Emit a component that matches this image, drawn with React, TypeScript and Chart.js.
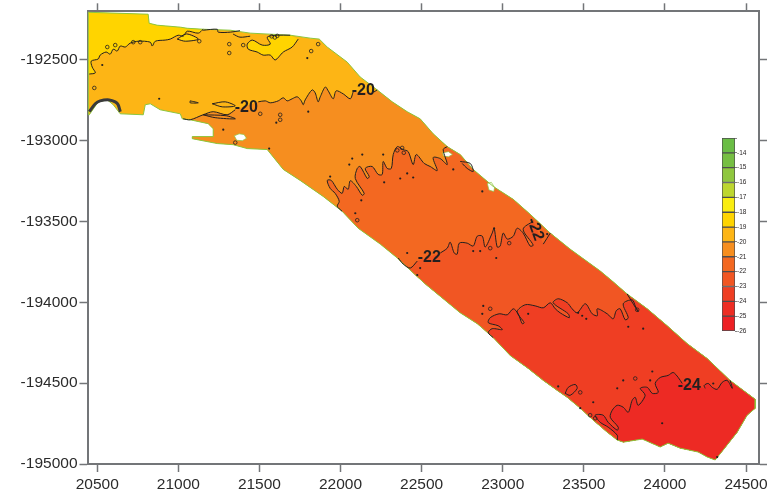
import React, { useEffect, useRef } from "react";
import { Chart, registerables } from "chart.js";

Chart.register(...registerables);

type P = number[];

const xTickValues = [20500, 21000, 21500, 22000, 22500, 23000, 23500, 24000, 24500];
const yTickValues = [-195000, -194500, -194000, -193500, -193000, -192500];

// survey area: clockwise ring of (easting, northing)
const upperEdge: P[] = [
  [20445,-192206],[20814,-192218],[20820,-192274],[20870,-192286],[21012,-192298],[21055,-192305],[21153,-192311],
  [21320,-192317],[21443,-192335],[21690,-192348],[21813,-192366],[21869,-192372],[21918,-192421],[22041,-192514],
  [22121,-192606],[22226,-192686],[22319,-192760],[22411,-192821],[22491,-192865],[22571,-192957],[22658,-193037],
  [22738,-193086],[22818,-193178],[22941,-193283],[23065,-193363],[23169,-193455],[23293,-193572],[23416,-193671],
  [23601,-193806],[23675,-193868],[23767,-193948],[23891,-194040],[24014,-194145],[24137,-194255],[24261,-194348],
  [24402,-194483],[24557,-194600],
];
const endCap: P[] = [
  [24557,-194655],[24507,-194698],[24446,-194803],[24359,-194914],[24310,-194975],[24261,-194957],[24205,-194926],
  [24094,-194902],[24020,-194871],[23971,-194895],[23860,-194846],[23743,-194865],[23706,-194852],
];
const lowerEdge: P[] = [
  [23644,-194803],[23558,-194729],[23478,-194655],[23398,-194588],[23336,-194545],[23250,-194483],[23157,-194409],
  [23046,-194329],[22941,-194218],[22843,-194132],[22738,-194065],[22633,-193978],[22522,-193886],[22448,-193818],
  [22350,-193726],[22245,-193640],[22109,-193542],[22010,-193437],[21893,-193345],[21751,-193246],[21647,-193178],
  [21548,-193055],[21425,-193049],[21338,-193025],[21240,-193018],[21086,-192988],[21086,-192975],[21215,-192975],
  [21215,-192926],[21184,-192895],[21073,-192871],[21024,-192865],[21012,-192834],[20888,-192809],[20827,-192772],
  [20796,-192778],[20784,-192840],[20642,-192834],[20599,-192778],[20562,-192748],[20506,-192760],[20451,-192840],
  [20445,-192840],
];
const holes: P[][] = [
  [[21345,-192970],[21375,-192958],[21405,-192962],[21420,-192985],[21395,-193000],[21360,-192998]],
  [[22630,-193075],[22665,-193068],[22690,-193085],[22665,-193100],[22635,-193095]],
  [[22905,-193265],[22930,-193258],[22950,-193290],[22945,-193315],[22915,-193305]],
];

// -19 contour and the yellow patches above it
const contour19: P[] = [
  [20451,-192588],[20488,-192581],[20469,-192545],[20463,-192508],[20506,-192495],[20518,-192471],[20555,-192452],
  [20580,-192465],[20599,-192434],[20623,-192446],[20642,-192415],[20673,-192421],[20703,-192397],[20753,-192385],
  [20827,-192391],[20839,-192415],[20858,-192385],[20919,-192378],[20950,-192372],[20999,-192348],[21030,-192354],
  [21055,-192323],[21123,-192335],[21153,-192311],
];
const patch19: P[] = [
  [21739,-192372],[21702,-192421],[21647,-192452],[21597,-192501],[21567,-192471],[21523,-192471],[21486,-192452],
  [21431,-192434],[21425,-192403],[21456,-192378],[21517,-192409],[21567,-192403],[21548,-192360],[21610,-192348],
  [21690,-192348],
];
const ribbon19: P[] = [
  [20993,-192372],[21050,-192340],[21123,-192372],[21043,-192385],[20993,-192372],
];
const ripple19a: P[] = [[21153,-192317],[21240,-192311],[21246,-192329],[21320,-192329],[21380,-192320]];
const ripple19b: P[] = [[21338,-192341],[21380,-192360],[21443,-192354]];

const contour20a: P[] = [
  [21030,-192865],[21073,-192871],[21153,-192840],[21215,-192821],[21301,-192840],[21351,-192809],
];
const contour20b: P[] = [
  [21493,-192760],[21536,-192754],[21567,-192766],[21616,-192754],[21647,-192735],[21671,-192754],[21702,-192741],
  [21733,-192729],[21758,-192754],[21770,-192778],[21782,-192748],[21825,-192686],[21844,-192705],[21862,-192760],
  [21875,-192729],[21906,-192668],[21924,-192692],[21955,-192741],[21973,-192692],[22017,-192711],[22060,-192741],
  [22078,-192698],
];
const contour20c: P[] = [[22205,-192700],[22226,-192686]];

const contour21: P[] = [
  [22010,-193437],[21980,-193406],[21992,-193375],[21967,-193326],[21936,-193295],[21918,-193246],[21943,-193246],
  [21980,-193301],[22010,-193326],[22023,-193283],[22047,-193301],[22060,-193248],[22097,-193283],[22134,-193338],
  [22146,-193326],[22091,-193234],[22103,-193172],[22121,-193160],[22165,-193234],[22177,-193222],[22152,-193172],
  [22195,-193160],[22232,-193209],[22257,-193209],[22263,-193129],[22288,-193172],[22313,-193172],[22325,-193086],
  [22350,-193037],[22386,-193055],[22417,-193068],[22448,-193148],[22467,-193086],[22516,-193141],[22553,-193160],
  [22596,-193185],[22571,-193105],[22615,-193111],[22658,-193148],[22633,-193055],[22658,-193037],
];
const fringe21: P[] = [[22738,-193129],[22800,-193141],[22818,-193191],[22781,-193172],[22750,-193141]];

const contour22a: P[] = [[22356,-193726],[22386,-193763],[22430,-193788],[22473,-193745]];
const contour22b: P[] = [
  [22615,-193695],[22658,-193665],[22676,-193628],[22701,-193695],[22719,-193702],[22732,-193634],[22781,-193634],
  [22818,-193652],[22843,-193591],[22874,-193591],[22892,-193658],[22935,-193572],[22947,-193542],[22966,-193658],
  [22984,-193652],[23003,-193572],[23028,-193609],[23065,-193591],[23089,-193542],[23126,-193572],[23169,-193652],
  [23188,-193646],[23126,-193548],[23188,-193498],
];
const contour22c: P[] = [[23250,-193640],[23293,-193572]];

const contour23: P[] = [
  [22941,-194218],[22911,-194188],[22935,-194163],[22997,-194169],[22972,-194145],[22911,-194126],[22923,-194095],
  [22978,-194071],[23028,-194077],[23065,-194040],[23095,-194071],[23120,-194132],[23132,-194126],[23089,-194058],
  [23139,-194015],[23200,-194022],[23250,-194034],[23293,-194003],[23324,-194040],[23354,-194065],[23410,-194095],
  [23404,-194071],[23311,-194003],[23342,-193978],[23398,-194003],[23428,-194040],[23459,-194065],[23509,-194009],
  [23552,-194071],[23583,-194083],[23583,-194040],[23644,-194071],[23681,-194102],[23700,-194052],[23724,-194040],
  [23755,-194108],[23774,-194095],[23743,-194009],[23798,-193985],[23817,-194022],[23835,-194058],[23804,-194009],
  [23767,-193948],
];

const contour24a: P[] = [
  [23706,-194852],[23706,-194822],[23650,-194772],[23601,-194742],[23570,-194698],[23619,-194698],[23650,-194742],
  [23706,-194791],[23712,-194772],[23663,-194711],[23675,-194668],[23706,-194637],[23743,-194649],[23774,-194680],
  [23798,-194606],[23817,-194588],[23835,-194637],[23878,-194575],[23848,-194532],[23891,-194526],[23922,-194563],
  [23959,-194557],[23940,-194502],[23971,-194465],[24020,-194452],[24051,-194434],[24082,-194465],[24107,-194502],
];
const contour24b: P[] = [
  [24248,-194532],[24242,-194514],[24267,-194502],[24292,-194526],[24322,-194538],[24353,-194495],[24384,-194483],
  [24415,-194532],[24402,-194483],
];

const closedLoops: P[][] = [
  [[21073,-192754],[21123,-192766],[21073,-192766],[21073,-192754]],
  [[21209,-192772],[21289,-192760],[21351,-192785],[21271,-192791],[21209,-192772]],
  [[21153,-192840],[21227,-192858],[21351,-192865],[21295,-192846],[21153,-192840]],
  [[23385,-194563],[23404,-194526],[23447,-194508],[23459,-194532],[23416,-194575],[23385,-194563]],
];
const bayContour: P[] = [
  [20451,-192821],[20488,-192772],[20518,-192754],[20574,-192748],[20611,-192760],[20629,-192778],[20642,-192821],
];

const smallRings: P[] = [
  [20482,-192674],[20562,-192421],[20611,-192409],[20722,-192391],[20765,-192391],[21129,-192385],[21314,-192403],
  [21314,-192458],[21400,-192409],[21862,-192403],[21819,-192446],[21505,-192834],[21628,-192840],[21628,-192871],
  [22103,-193492],[22923,-193665],[23040,-193634],[22923,-194040],[23829,-194046],[23817,-194471],[21351,-193012],
  [23539,-194698],[23570,-194717],[23478,-194557],[22350,-193060],[22380,-193045],[22390,-193075],
  [21575,-192355],[21595,-192362],[21610,-192352],
];
const smallDots: P[] = [
  [21795,-192489],[20882,-192741],[20531,-192532],[21801,-192821],[21604,-192889],[21277,-192932],[21560,-193049],
  [22072,-193111],[22134,-193086],[22263,-193086],[21936,-193222],[22054,-193148],[22411,-193203],[22448,-193228],
  [22269,-193258],[22368,-193234],[22128,-193369],[22091,-193449],[22473,-193831],[22874,-193314],[22695,-193178],
  [22411,-193695],[22491,-193788],[22818,-193683],[22861,-193683],[22960,-193726],[22947,-193542],[23274,-193578],
  [22880,-194022],[22874,-194071],[23157,-194071],[23465,-194065],[23490,-194083],[23515,-194102],[23774,-194151],
  [23866,-194163],[23342,-194520],[23558,-194618],[23478,-194655],[23706,-194532],[23743,-194483],[23922,-194428],
  [23909,-194483],[23983,-194748],[24322,-194957],[24298,-194502],
];

const contourLabels = ["-20", "-20", "-22", "-22", "-24"];
const labelX = [21419, 22140, 22547, 23200, 24150];
const labelY = [-192797, -192692, -193726, -193548, -194514];
const labelAngle = [0, 0, 0, 70, 0];

const legendLevels = [-13, -14, -15, -16, -17, -18, -19, -20, -21, -22, -23, -24, -25, -26];
const legendColors = [
  "#6abd45", "#76be43", "#8fc73e", "#bdd630", "#f9ed10", "#ffd400", "#fdb515",
  "#f68e1f", "#f36821", "#f15623", "#ef3e23", "#ed2d24", "#ed2024",
];

const LINE = "#231f20";
const AXIS = "#737578";
const OUTLINE = "#8cc63f";
const FONT = "'Liberation Sans', Arial, sans-serif";

const pts = (a: P[]) => a.map(([x, y]) => ({ x, y }));

const ring = [...upperEdge, ...endCap, ...lowerEdge];
const nearest = (p: P) => {
  let best = 0, d = Infinity;
  ring.forEach((q, i) => {
    const e = (q[0] - p[0]) ** 2 + (q[1] - p[1]) ** 2;
    if (e < d) { d = e; best = i; }
  });
  return best;
};
// everything on the far side of a contour, running lower edge -> upper edge
const beyond = (line: P[]) => {
  const a = nearest(line[0]);
  const b = nearest(line[line.length - 1]);
  return [...line, ...ring.slice(b, a + 1)];
};

function fillSet(data: P[], color: string) {
  return { data: pts([...data, data[0]]), showLine: true, fill: "shape", backgroundColor: color, borderColor: color, borderWidth: 0, pointRadius: 0, tension: 0 };
}
function lineSet(data: P[], width = 1, color = LINE, tension = 0.3) {
  return { data: pts(data), showLine: true, fill: false, borderColor: color, borderWidth: width, pointRadius: 0, tension };
}

const labelPlugin = {
  id: "contourLabels",
  afterDatasetsDraw(chart: any) {
    const { ctx, scales } = chart;
    contourLabels.forEach((t, i) => {
      ctx.save();
      ctx.translate(scales.x.getPixelForValue(labelX[i]), scales.y.getPixelForValue(labelY[i]));
      ctx.rotate((labelAngle[i] * Math.PI) / 180);
      ctx.font = `bold 16px ${FONT}`;
      ctx.fillStyle = LINE;
      ctx.textAlign = "center";
      ctx.textBaseline = "middle";
      ctx.fillText(t, 0, 0);
      ctx.restore();
    });
  },
};

function axis(position: string, ticks: number[], min: number, max: number, size: number, labels: boolean, horizontal: boolean) {
  return {
    type: "linear",
    position,
    min,
    max,
    afterBuildTicks: (s: any) => { s.ticks = ticks.map((value) => ({ value })); },
    afterFit: (s: any) => { if (horizontal) s.height = size; else s.width = size; },
    border: { display: true, color: AXIS, width: 2 },
    grid: { drawOnChartArea: false, drawTicks: true, tickLength: 8, tickWidth: 1.5, tickColor: AXIS, color: AXIS },
    ticks: {
      display: labels,
      autoSkip: false,
      maxRotation: 0,
      padding: horizontal ? 3 : 2,
      color: "#2b2b2b",
      font: { family: FONT, size: 15.5 },
      callback: (v: number) => String(v),
    },
  };
}

export default function App() {
  const mapRef = useRef<HTMLCanvasElement>(null);
  const barRef = useRef<HTMLCanvasElement>(null);

  useEffect(() => {
    const yellow: P[] = [[20445, -192206], ...upperEdge.slice(1, 7), ...[...contour19].reverse(), [20445, -192588]];
    const sets: any[] = [
      fillSet(ring, "#fdb515"),
      fillSet(yellow, "#ffd400"),
      fillSet(patch19, "#ffd400"),
      fillSet(ribbon19, "#ffd400"),
      fillSet(beyond([...contour20a, ...contour20b, ...contour20c]), "#f68e1f"),
      fillSet(beyond(contour21), "#f36821"),
      fillSet(beyond([...contour22a, ...contour22b, ...contour22c]), "#f15623"),
      fillSet(beyond(contour23), "#ef3e23"),
      fillSet(beyond([...contour24a, ...contour24b]), "#ed2a24"),
      ...holes.map((h) => fillSet(h, "#ffffff")),
      lineSet([...ring, ring[0]], 1, OUTLINE, 0),
      ...holes.map((h) => lineSet([...h, h[0]], 0.7, OUTLINE, 0)),
      lineSet(contour19), lineSet(patch19), lineSet(ribbon19), lineSet(ripple19a), lineSet(ripple19b),
      lineSet(contour20a), lineSet(contour20b), lineSet(contour20c),
      lineSet(contour21), lineSet(fringe21),
      lineSet(contour22a), lineSet(contour22b), lineSet(contour22c),
      lineSet(contour23), lineSet(contour24a), lineSet(contour24b),
      ...closedLoops.map((l) => lineSet(l)),
      lineSet(bayContour, 3, "#3a3a3a"),
      { data: pts(smallRings), showLine: false, pointRadius: 1.8, borderWidth: 0.8, borderColor: LINE, backgroundColor: "rgba(0,0,0,0)" },
      { data: pts(smallDots), showLine: false, pointRadius: 1.1, borderWidth: 0, backgroundColor: LINE },
    ];
    sets.forEach((s, i) => { s.order = sets.length - i; });

    const map = new Chart(mapRef.current!, {
      type: "scatter",
      data: { datasets: sets },
      plugins: [labelPlugin],
      options: {
        animation: false,
        responsive: false,
        layout: { padding: 0 },
        plugins: { legend: { display: false }, tooltip: { enabled: false } },
        scales: {
          x: axis("bottom", xTickValues, 20440, 24580, 29, true, true),
          x2: axis("top", xTickValues, 20440, 24580, 9, false, true),
          y: axis("left", yTickValues, -195000, -192200, 87.5, true, false),
          y2: axis("right", yTickValues, -195000, -192200, 14, false, false),
        },
      } as any,
    } as any);

    const bands = legendColors.map((_, i) => [legendLevels[i + 1], legendLevels[i]]);
    const bar = new Chart(barRef.current!, {
      type: "bar",
      data: {
        labels: ["scale"],
        datasets: bands.map((b, i) => ({
          data: [b],
          backgroundColor: legendColors[i],
          borderColor: "#4d4d4f",
          borderWidth: 1,
          borderSkipped: false,
          grouped: false,
          barPercentage: 1,
          categoryPercentage: 1,
        })),
      } as any,
      options: {
        animation: false,
        responsive: false,
        layout: { padding: { left: 2, top: 8, bottom: 9, right: 0 } },
        plugins: { legend: { display: false }, tooltip: { enabled: false } },
        scales: {
          x: { display: false },
          y: {
            position: "right",
            min: -26,
            max: -13,
            afterFit: (s: any) => { s.width = 38; },
            border: { display: false },
            grid: { drawOnChartArea: false, tickLength: 2, tickColor: "#4d4d4f", tickWidth: 0.7 },
            ticks: {
              stepSize: 1,
              padding: 0,
              color: LINE,
              font: { family: FONT, size: 6.5 },
              callback: (v: number) => (v === -13 ? "" : String(v)),
            },
          },
        },
      } as any,
    } as any);

    return () => { map.destroy(); bar.destroy(); };
  }, []);

  return (
    <div style={{ position: "absolute", left: 0, top: 0, width: 773, height: 493, background: "#fff" }}>
      <canvas ref={mapRef} width={773} height={493} style={{ position: "absolute", left: 0, top: 0, display: "block" }} />
      <canvas ref={barRef} width={53} height={210} style={{ position: "absolute", left: 720, top: 130, display: "block" }} />
    </div>
  );
}
